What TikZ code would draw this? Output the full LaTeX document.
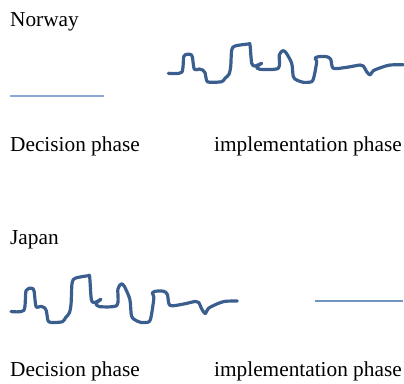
\documentclass[tikz,border=0pt]{standalone}
\usepackage{fontspec}
\setmainfont{Liberation Serif}
\definecolor{wavecol}{RGB}{58,95,142}
\definecolor{flatcol}{RGB}{140,168,216}
\definecolor{flatcoltwo}{RGB}{114,148,192}
\tikzset{
  wave/.pic={
    \draw[wavecol,line width=3.2pt,line cap=round,line join=round]
      plot[smooth,tension=0.45] coordinates {
        (0,0) (13.4,-1) (15.7,-17.3) (21.7,-19) (24,-16.6) (26,-4)
        (31,-4.3) (34.4,-3.3) (36.7,-0.6) (38.4,7.4) (41.7,9) (53.4,8.4)
        (56.7,5) (60.7,1) (62.4,-6.6) (63.4,-23.3) (66.7,-27.3) (80,-29.3)
        (81.7,-28.3) (83.4,-10) (86.7,-7.3) (93.4,-10) (88.4,-6.6)
        (91.7,-4) (110,-5) (111,-18.3) (114.4,-22.6) (117.7,-20.6)
        (123.4,-10) (125,3.4) (128.4,6.7) (135,9) (143.4,8.4) (145.7,3.4)
        (148.4,-11.6) (146.7,-15) (150,-16.6) (158.4,-16.6) (162.4,-14)
        (165,-5) (178.4,-6) (191.7,-8.3) (195,-7.3) (198.4,-1.6)
        (201.7,1.7) (205,-2.6) (213.4,-6) (221.7,-8.3) (235,-8.6)};
  }
}
\begin{document}
\begin{tikzpicture}[x=1bp,y=-1bp]
  \useasboundingbox (0,0) rectangle (404,384);

  \begin{scope}[every node/.style={anchor=base west,inner sep=0pt,
      font=\fontsize{21.3bp}{25bp}\selectfont}]
    \node (norway) at (10,26)    {Norway};
    \node (dec1)   at (10,151)   {Decision phase};
    \node (impl1)  at (214,151)  {implementation phase};
    \node (japan)  at (10,244)   {Japan};
    \node (dec2)   at (10,376)   {Decision phase};
    \node (impl2)  at (214,376)  {implementation phase};
  \end{scope}

  % flat lines
  \draw[flatcol,line width=1.7pt] (10,95.7) -- (104,95.7);
  \draw[flatcoltwo,line width=1.7pt] (314.5,301) -- (403,301);

  % wavy lines
  \pic at (168.3,73.3) {wave};
  \pic[xscale=0.963,yscale=1.22] at (11,311.5) {wave};

\end{tikzpicture}
\end{document}
